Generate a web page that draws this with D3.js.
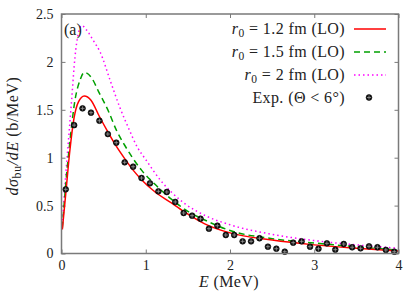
<!DOCTYPE html>
<html lang="en">
<head>
<meta charset="utf-8">
<title>Breakup cross section</title>
<script src="https://d3js.org/d3.v7.min.js"></script>
<style>
  body { margin: 0; background: #fff; }
  text { font-family: "Liberation Serif", "DejaVu Serif", serif; fill: #222; }
</style>
</head>
<body>
<script>
// Data
var expE = [0.05,0.15,0.25,0.35,0.45,0.55,0.65,0.75,0.85,0.95,
            1.05,1.15,1.25,1.35,1.45,1.55,1.65,1.75,1.85,1.95,
            2.05,2.15,2.25,2.35,2.45,2.55,2.65,2.75,2.85,2.95,
            3.05,3.15,3.25,3.35,3.45,3.55,3.65,3.75,3.85,3.95];
var expSigma = [0.67,1.34,1.515,1.47,1.386,1.247,1.157,0.952,0.906,0.788,
                0.733,0.649,0.642,0.538,0.423,0.395,0.363,0.259,0.29,0.193,
                0.193,0.127,0.127,0.159,0.071,0.05,0.019,0.113,0.127,0.071,
                0.05,0.106,0.04,0.099,0.065,0.054,0.075,0.065,0.037,0.019];

var r12E = [0.01,0.05,0.1,0.15,0.2,0.27,0.35,0.45,0.55,0.65,0.75,0.85,0.95,1.1,1.3,1.45,1.7,2.0,2.5,3.0,3.5,4.0];
var r12S = [0.25,0.62,1.08,1.42,1.58,1.644,1.6,1.43,1.27,1.12,0.99,0.87,0.77,0.65,0.53,0.44,0.31,0.215,0.14,0.09,0.055,0.025];

var r15E = [0.01,0.05,0.1,0.16,0.22,0.27,0.36,0.44,0.56,0.65,0.75,0.85,0.95,1.1,1.3,1.5,1.7,1.85,2.0,2.5,3.0,3.5,4.0];
var r15S = [0.27,0.72,1.17,1.6,1.81,1.89,1.83,1.69,1.48,1.29,1.13,0.99,0.87,0.73,0.57,0.44,0.35,0.29,0.24,0.155,0.11,0.07,0.035];

var r20E = [0.01,0.04,0.08,0.12,0.16,0.2,0.24,0.3,0.38,0.46,0.58,0.69,0.8,0.9,1.0,1.17,1.45,1.72,2.0,2.5,3.0,3.5,4.0];
var r20S = [0.3,0.7,1.15,1.6,2.05,2.3,2.38,2.33,2.22,2.1,1.8,1.53,1.3,1.11,0.98,0.77,0.53,0.39,0.3,0.2,0.135,0.09,0.055];

var xTicks = [0,1,2,3,4];
var yTicks = [0,0.5,1,1.5,2,2.5];
var yTickLabels = ["0","0.5","1","1.5","2","2.5"];

var legendLabels = ["r0 = 1.2 fm (LO)", "r0 = 1.5 fm (LO)", "r0 = 2 fm (LO)", "Exp. (Θ < 6°)"];

var w = 415, h = 292;
var mLeft = 61.5, mRight = 398.5, mTop = 14, mBottom = 253.5;

var svg = d3.select("body").append("svg")
    .attr("width", w).attr("height", h);

var x = d3.scaleLinear().domain([0, 4]).range([mLeft, mRight]);
var y = d3.scaleLinear().domain([0, 2.5]).range([mBottom, mTop]);

var frameColor = "#7a7a7a";

// ticks (inward, mirrored)
var xAxisB = d3.axisBottom(x).tickValues(xTicks).tickSizeInner(-4).tickSizeOuter(0).tickPadding(7).tickFormat(d3.format("d"));
var xAxisT = d3.axisTop(x).tickValues(xTicks).tickSizeInner(-4).tickSizeOuter(0).tickFormat("");
var yAxisL = d3.axisLeft(y).tickValues(yTicks).tickSizeInner(-4).tickSizeOuter(0).tickPadding(8)
    .tickFormat(function(d, i) { return yTickLabels[i]; });
var yAxisR = d3.axisRight(y).tickValues(yTicks).tickSizeInner(-4).tickSizeOuter(0).tickFormat("");

function styleAxis(g) {
  g.select(".domain").remove();
  g.selectAll("line").attr("stroke", frameColor).attr("stroke-width", 1);
  g.selectAll("text").attr("font-family", "Liberation Serif, serif").attr("font-size", 14).attr("fill", "#222");
}
svg.append("g").attr("transform", "translate(0," + mBottom + ")").call(xAxisB).call(styleAxis);
svg.append("g").attr("transform", "translate(0," + mTop + ")").call(xAxisT).call(styleAxis);
svg.append("g").attr("transform", "translate(" + mLeft + ",0)").call(yAxisL).call(styleAxis);
svg.append("g").attr("transform", "translate(" + mRight + ",0)").call(yAxisR).call(styleAxis);

// curves
svg.append("clipPath").attr("id", "clip").append("rect")
    .attr("x", mLeft).attr("y", mTop).attr("width", mRight - mLeft).attr("height", mBottom - mTop);

var line = d3.line().x(function(d) { return x(d[0]); }).y(function(d) { return y(d[1]); })
    .curve(d3.curveMonotoneX);

var series = [
  { e: r12E, s: r12S, color: "#ff0000", dash: null },
  { e: r15E, s: r15S, color: "#00a000", dash: "6,4" },
  { e: r20E, s: r20S, color: "#ff00ff", dash: "1.5,3" }
];

var plot = svg.append("g").attr("clip-path", "url(#clip)");
series.slice().reverse().forEach(function(sr) {
  plot.append("path")
    .datum(d3.zip(sr.e, sr.s))
    .attr("d", line)
    .attr("fill", "none")
    .attr("stroke", sr.color)
    .attr("stroke-width", 1.5)
    .attr("stroke-dasharray", sr.dash);
});

// experimental points
function drawPoint(g, cx, cy) {
  g.append("circle").attr("cx", cx).attr("cy", cy).attr("r", 2.9)
    .attr("fill", "#111").attr("stroke", "#000").attr("stroke-width", 0.6);
  g.append("line").attr("x1", cx).attr("x2", cx).attr("y1", cy - 2).attr("y2", cy + 2)
    .attr("stroke", "#999").attr("stroke-width", 0.8);
  g.append("line").attr("x1", cx - 2).attr("x2", cx + 2).attr("y1", cy).attr("y2", cy)
    .attr("stroke", "#999").attr("stroke-width", 0.8);
}
var pts = svg.append("g");
d3.zip(expE, expSigma).forEach(function(d) { drawPoint(pts, x(d[0]), y(d[1])); });

// frame
svg.append("rect")
  .attr("x", mLeft).attr("y", mTop).attr("width", mRight - mLeft).attr("height", mBottom - mTop)
  .attr("fill", "none").attr("stroke", frameColor).attr("stroke-width", 1.5);

// legend
var legY = [29, 52, 75, 98];
var leg = svg.append("g");
legendLabels.forEach(function(lbl, i) {
  var t = leg.append("text")
    .attr("x", 345).attr("y", legY[i] + 5)
    .attr("text-anchor", "end")
    .attr("font-size", 16)
    .attr("letter-spacing", 0.4);
  if (i < 3) {
    var parts = lbl.split("r0");
    t.append("tspan").attr("font-style", "italic").text("r");
    t.append("tspan").attr("font-size", 11.5).attr("dy", 3).text("0");
    t.append("tspan").attr("dy", -3).text(parts[1]);
    leg.append("line")
      .attr("x1", 354).attr("x2", 386).attr("y1", legY[i]).attr("y2", legY[i])
      .attr("stroke", series[i].color).attr("stroke-width", 1.5)
      .attr("stroke-dasharray", series[i].dash);
  } else {
    t.text(lbl);
    drawPoint(leg, 369, legY[i] - 0.5);
  }
});

// (a)
svg.append("text").attr("x", 64).attr("y", 35).attr("font-size", 16).text("(a)");

// axis labels
var xl = svg.append("text").attr("x", 229).attr("y", 287).attr("text-anchor", "middle")
  .attr("font-size", 16).attr("letter-spacing", 0.4);
xl.append("tspan").attr("font-style", "italic").text("E");
xl.append("tspan").text(" (MeV)");

var yl = svg.append("text")
  .attr("transform", "translate(18,136) rotate(-90)")
  .attr("text-anchor", "middle").attr("font-size", 16).attr("letter-spacing", 0.6);
yl.append("tspan").attr("font-style", "italic").text("dσ");
yl.append("tspan").attr("font-size", 12).attr("dy", 3).text("bu");
yl.append("tspan").attr("dy", -3).attr("font-style", "italic").text("/dE");
yl.append("tspan").text(" (b/MeV)");
</script>
</body>
</html>
